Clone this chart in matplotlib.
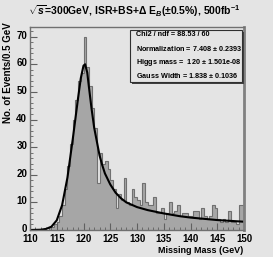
import numpy as np
import matplotlib
matplotlib.use("Agg")
import matplotlib.pyplot as plt
import matplotlib.transforms as mtransforms
from matplotlib.patches import Rectangle
from matplotlib.ticker import MultipleLocator

plt.rcParams['font.family'] = ['Liberation Sans', 'DejaVu Sans']
plt.rcParams['mathtext.fontset'] = 'custom'
plt.rcParams['mathtext.rm'] = 'Liberation Sans:bold'
plt.rcParams['mathtext.it'] = 'Liberation Sans:bold:italic'
plt.rcParams['mathtext.bf'] = 'Liberation Sans:bold'

# histogram: 0.5 GeV bins from 110 to 150
bin_edges = np.arange(110.0, 150.01, 0.5)
counts = [0, 0, 0, 0, 0, 0, 0, 1, 1, 2,
          3, 5, 9, 15, 23, 31, 40, 47, 54, 57,
          70, 59, 52, 44, 37, 17, 28, 24, 25, 22,
          18, 15, 8, 13, 11, 19, 10, 9, 15, 12,
          11, 9, 17, 10, 9, 9, 12, 6, 6, 8,
          4, 6, 10, 6, 7, 9, 5, 6, 6, 5,
          5, 7, 7, 4, 8, 5, 4, 5, 9, 8,
          4, 3, 4, 3, 7, 3, 3, 2, 9, 9]

# fitted curve
fit_mass = [110, 112, 113, 114, 115, 116, 117, 118, 119, 119.5, 120, 120.3, 120.7,
            121, 121.5, 122, 122.5, 123, 123.5, 124, 125, 126, 127, 128, 130,
            132, 135, 138, 140, 145, 150]
fit_vals = [0, 0.1, 0.4, 1.2, 3.5, 9, 19, 33, 48, 55, 59.5, 60, 57,
            52, 44, 37, 32, 27, 23.5, 20.5, 16.5, 13.5, 11.5, 10, 8.3,
            7.2, 6, 5, 4.5, 3.6, 3]

stats_lines = ["Chi2 / ndf = 88.53 / 60",
               "Normalization = 7.408 $\\pm$ 0.2393",
               "Higgs mass =  120 $\\pm$ 1.501e-08",
               "Gauss Width = 1.838 $\\pm$ 0.1036"]

bg = '#e4e4e4'
fig = plt.figure(figsize=(2.73, 2.57), dpi=100, facecolor=bg)
ax = fig.add_axes([30/273, 27/257, 214/273, 203/257], facecolor=bg)

ax.stairs(counts, bin_edges, fill=True, color='#a6a6a6', lw=0)
ax.stairs(counts, bin_edges, color='#707070', lw=0.8)
ax.plot(fit_mass, fit_vals, color='black', lw=1.5)

ax.set_xlim(110, 150)
ax.set_ylim(0, 73.5)
ax.xaxis.set_major_locator(MultipleLocator(5))
ax.xaxis.set_minor_locator(MultipleLocator(1))
ax.yaxis.set_major_locator(MultipleLocator(10))
ax.yaxis.set_minor_locator(MultipleLocator(2))
ax.tick_params(which='both', direction='in', top=False, right=False,
               labelsize=7, color='#606060')
ax.tick_params(axis='y', pad=2)
ax.tick_params(axis='x', pad=3)
ax.tick_params(which='major', length=5)
ax.tick_params(which='minor', length=2.5)
for lab in ax.get_xticklabels() + ax.get_yticklabels():
    lab.set_fontweight('bold')
# nudge y tick labels up a little so "0" clears "110"
shift = mtransforms.ScaledTranslation(0, 2/100, fig.dpi_scale_trans)
for tick in ax.yaxis.get_major_ticks():
    tick.label1.set_transform(tick.label1.get_transform() + shift)
for s in ax.spines.values():
    s.set_color('#707070')
    s.set_linewidth(1)
ax.spines['right'].set_linewidth(2)
ax.spines['right'].set_color('#808080')

fig.text(134/273, 1 - 11/257,
         r'$\sqrt{s}$=300GeV, ISR+BS+$\Delta$ E$_B$($\pm$0.5%), 500fb$^{-1}$',
         ha='center', va='center', fontsize=7.5, fontweight='bold')
fig.text(8/273, 1 - 22/257, 'No. of Events/0.5 GeV', rotation=90,
         ha='center', va='top', fontsize=7, fontweight='bold')
fig.text(243/273, 1 - 250.5/257, 'Missing Mass (GeV)', ha='right', va='center',
         fontsize=6.5, fontweight='bold')

# stats box with shadow
x0, y0, w, h = 130/273, 1 - 82/257, 112/273, 52/257
fig.patches.append(Rectangle((x0 + 2/273, y0 - 2/257), w, h, transform=fig.transFigure,
                             facecolor='#404040', edgecolor='none', zorder=5))
fig.patches.append(Rectangle((x0, y0), w, h, transform=fig.transFigure,
                             facecolor=bg, edgecolor='#303030', lw=0.8, zorder=6))
for i, line in enumerate(stats_lines):
    fig.text(136/273, 1 - (35 + i * 13.5)/257, line, ha='left', va='center',
             fontsize=5.2, fontweight='bold', zorder=7)

fig.savefig('out.png', dpi=100, facecolor=bg)
